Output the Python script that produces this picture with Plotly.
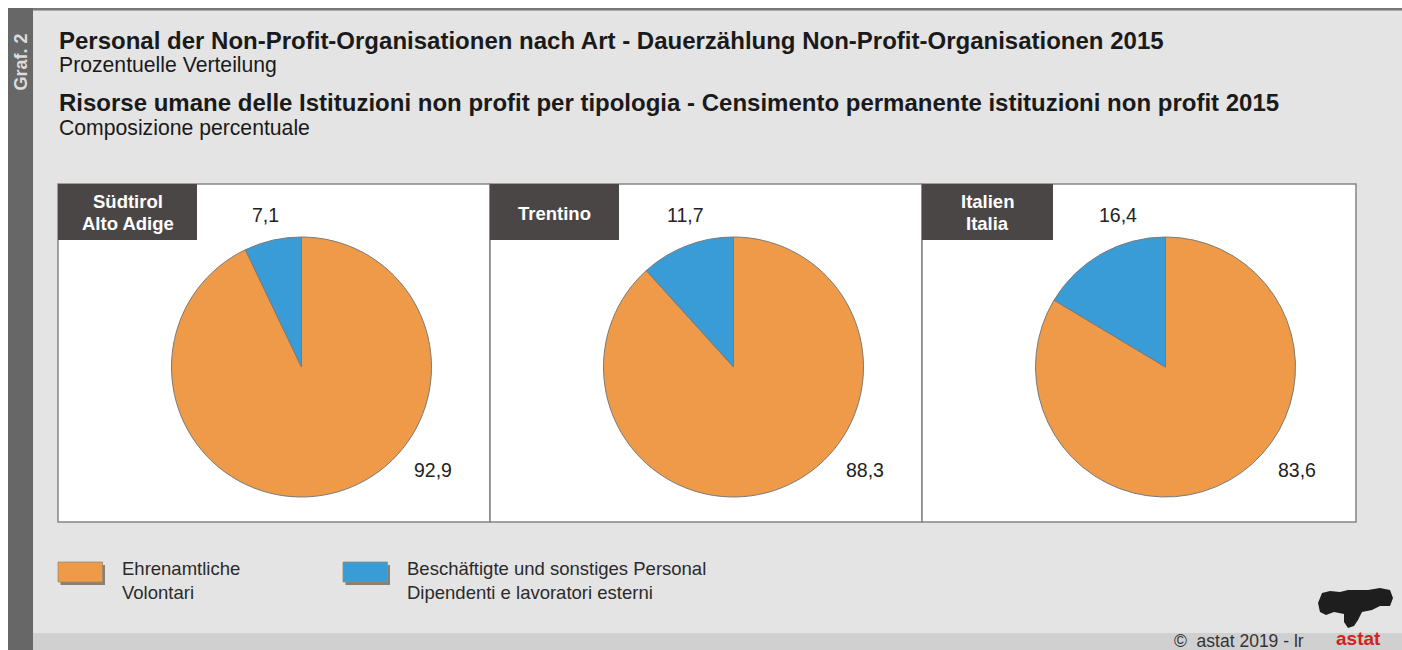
import plotly.graph_objects as go

W, H = 1402, 650

regions = [["Südtirol", "Alto Adige"], ["Trentino"], ["Italien", "Italia"]]
volontari = [92.9, 88.3, 83.6]
dipendenti = [7.1, 11.7, 16.4]
categories = ["Ehrenamtliche<br>Volontari", "Beschäftigte und sonstiges Personal<br>Dipendenti e lavoratori esterni"]
colors = ["#EE9A48", "#3A9CD7"]

FONT = "Liberation Sans, Arial, sans-serif"


def px(x):
    return x / W


def py(y):
    return 1 - y / H


def fmt(v):
    return f"{v:.1f}".replace(".", ",")


def note(text, x, y, size, color="#222", xanchor="center", **kw):
    return dict(text=text, x=px(x), y=py(y), xref="paper", yref="paper", xanchor=xanchor, yanchor="middle",
                showarrow=False, font=dict(size=size, color=color, family=FONT), **kw)


fig = go.Figure()
shapes = []
annotations = []

# frame
shapes.append(dict(type="rect", xref="paper", yref="paper", x0=px(0), x1=px(W), y0=py(0), y1=py(8),
                   fillcolor="white", line_width=0, layer="below"))
shapes.append(dict(type="rect", xref="paper", yref="paper", x0=px(0), x1=px(8), y0=py(0), y1=py(H),
                   fillcolor="white", line_width=0, layer="below"))
shapes.append(dict(type="rect", xref="paper", yref="paper", x0=px(8), x1=px(W), y0=py(8), y1=py(10.5),
                   fillcolor="#777777", line_width=0, layer="below"))
shapes.append(dict(type="rect", xref="paper", yref="paper", x0=px(8), x1=px(33), y0=py(8), y1=py(H),
                   fillcolor="#676767", line_width=0, layer="below"))
shapes.append(dict(type="rect", xref="paper", yref="paper", x0=px(33), x1=px(W), y0=py(633), y1=py(H),
                   fillcolor="#d0d0d0", line_width=0, layer="below"))
annotations.append(note("<b>Graf. 2</b>", 20.5, 62, 18, color="#dcdcdc", textangle=-90))

# titles
titles = [
    ("<b>Personal der Non-Profit-Organisationen nach Art - Dauerzählung Non-Profit-Organisationen 2015</b>", 40, 24),
    ("Prozentuelle Verteilung", 65, 21.2),
    ("<b>Risorse umane delle Istituzioni non profit per tipologia - Censimento permanente istituzioni non profit 2015</b>", 102, 24),
    ("Composizione percentuale", 128, 21.2),
]
for t, y, s in titles:
    annotations.append(note(t, 57, y, s, color="#1a1a1a", xanchor="left"))

panel_x = [58, 490, 922, 1356]
box_w = [139, 129, 131]
small_dx = [-36, -48.5, -47.5]
for i, reg in enumerate(regions):
    x0, x1 = panel_x[i], panel_x[i + 1]
    shapes.append(dict(type="rect", xref="paper", yref="paper", x0=px(x0), x1=px(x1), y0=py(184), y1=py(522),
                       fillcolor="white", line=dict(color="#858585", width=1.5), layer="below"))
    shapes.append(dict(type="rect", xref="paper", yref="paper", x0=px(x0), x1=px(x0 + box_w[i]), y0=py(184),
                       y1=py(240), fillcolor="#4b4646", line_width=0, layer="above"))
    n = len(reg)
    for k, line in enumerate(reg):
        annotations.append(note(f"<b>{line}</b>", x0 + box_w[i] / 2, 213 + (k - (n - 1) / 2) * 22, 18.5,
                                color="white"))
    cx = x0 + 243.5
    r = 130
    fig.add_trace(go.Pie(
        labels=["Volontari", "Dipendenti"], values=[volontari[i], dipendenti[i]],
        sort=False, direction="clockwise", rotation=0, textinfo="none", hoverinfo="label+value",
        marker=dict(colors=colors, line=dict(color="#7a7a7a", width=1)),
        domain=dict(x=[px(cx - r), px(cx + r)], y=[py(367 + r), py(367 - r)]),
        showlegend=False,
    ))
    annotations.append(note(fmt(dipendenti[i]), cx + small_dx[i], 215, 19.5))
    annotations.append(note(fmt(volontari[i]), cx + 131, 470, 19.5))

# legend
leg_x = [58, 343]
for i, cat in enumerate(categories):
    lx = leg_x[i]
    shapes.append(dict(type="rect", xref="paper", yref="paper", x0=px(lx + 2.5), x1=px(lx + 47), y0=py(565),
                       y1=py(585), fillcolor="#8a8070", line_width=0))
    shapes.append(dict(type="rect", xref="paper", yref="paper", x0=px(lx), x1=px(lx + 44.5), y0=py(562),
                       y1=py(582), fillcolor=colors[i], line=dict(color="#9a8a70", width=0.8)))
    annotations.append(note(cat, lx + 62, 580, 18.5, color="#2a2a2a", xanchor="left", align="left"))

# footer
annotations.append(note("©  astat 2019 - lr", 1306, 641, 17.5, color="#333", xanchor="right"))
annotations.append(note("<b>astat</b>", 1358, 638, 19, color="#d42020"))
logo = [(1318, 603), (1322, 593), (1330, 591), (1340, 592), (1348, 590), (1368, 590), (1380, 588),
        (1390, 590), (1393, 598), (1390, 606), (1380, 606), (1372, 610), (1362, 612), (1358, 620),
        (1354, 626), (1348, 628), (1344, 622), (1344, 614), (1334, 612), (1326, 615), (1320, 612)]
path = "M " + " L ".join(f"{px(a):.5f},{py(b):.5f}" for a, b in logo) + " Z"
shapes.append(dict(type="path", xref="paper", yref="paper", path=path, fillcolor="#1e1e1e", line_width=0))

fig.update_layout(
    width=W, height=H, margin=dict(l=0, r=0, t=0, b=0),
    paper_bgcolor="#e4e4e4", plot_bgcolor="#e4e4e4",
    shapes=shapes, annotations=annotations, showlegend=False,
)

fig.write_html("out.html", config={"displayModeBar": False},
               post_script="document.body.style.margin='0';")
